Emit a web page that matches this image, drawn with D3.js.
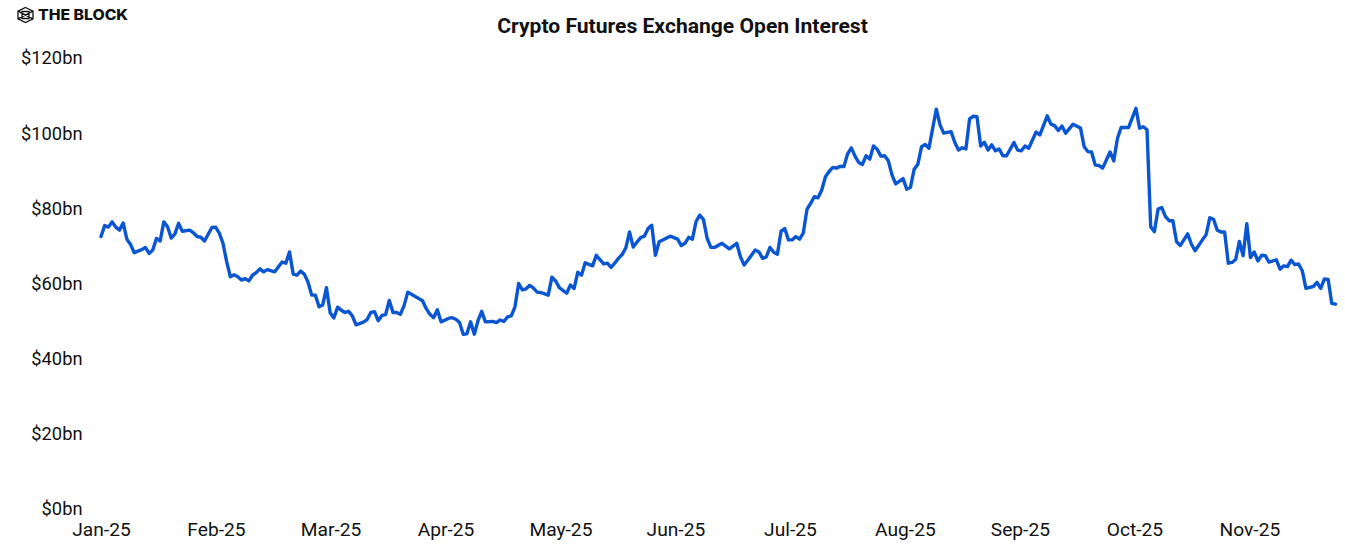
<!DOCTYPE html>
<html><head><meta charset="utf-8">
<script src="https://cdn.jsdelivr.net/npm/d3@7/dist/d3.min.js"></script>
<style>html,body{margin:0;padding:0;background:#fff}svg{display:block}text{font-family:Roboto,sans-serif;fill:#111}</style>
</head><body><svg id="c" width="1345" height="551"></svg>
<script>
const title = "Crypto Futures Exchange Open Interest";
const brand = "THE BLOCK";
const yTicks = [0,20,40,60,80,100,120];
const xTickLabels = ["Jan-25","Feb-25","Mar-25","Apr-25","May-25","Jun-25","Jul-25","Aug-25","Sep-25","Oct-25","Nov-25"];
const xTickDays = [0,31.1,62.1,93.2,124.3,155.4,186.4,217.5,248.6,279.6,310.7];
const days = [0,1,2,3,4,5,6,7,8,9,11,12,13,14,15,16,17,18,19,20,21,22,24,25,26,27,28,30,31,32,33,34,35,36,37,38,39,40,41,42,43,44,45,47,49,50,51,52,53,54,55,56,57,58,59,60,61,62,63,64,65,66,67,68,69,71,72,73,74,75,76,77,78,79,80,81,82,83,87,88,89,90,91,92,94,95,96,97,98,99,100,101,102,103,104,106,107,108,109,110,111,112,113,114,115,116,117,118,119,121,122,123,124,126,127,128,129,130,131,133,134,136,137,138,139,140,141,142,143,144,145,146,147,148,149,150,151,152,154,156,157,158,159,160,161,162,163,164,165,166,168,170,172,173,174,175,177,178,179,180,181,182,183,184,185,186,187,188,189,190,191,192,193,194,195,196,197,198,199,200,201,202,203,204,205,206,207,208,209,210,211,212,213,214,215,217,218,219,220,221,222,223,224,226,227,228,230,231,232,233,234,235,236,237,238,239,240,241,242,243,244,245,247,248,249,250,251,253,254,256,257,258,259,260,261,263,265,266,267,268,269,270,271,273,274,275,276,278,280,281,282,283,284,285,286,287,288,289,290,291,292,294,295,296,298,299,300,301,302,303,304,305,306,307,308,309,310,311,312,313,314,315,316,318,319,320,321,322,323,324,325,326,328,329,330,331,332,333,334];
const openInterest = [72.5,75.4,75.0,76.4,75.0,74.2,76.1,71.8,70.4,68.2,69.0,69.6,68.0,68.9,72.0,71.3,76.4,75.1,72.1,73.2,76.0,73.9,74.2,73.5,72.5,72.3,71.3,74.9,75.0,73.4,70.7,65.8,61.8,62.3,61.8,60.9,61.3,60.7,62.2,62.9,63.9,63.1,63.7,63.1,65.7,65.4,68.4,62.5,62.2,63.3,62.5,60.4,56.9,56.9,53.8,54.3,58.9,52.2,50.8,53.7,52.9,52.3,52.6,51.4,49.0,49.7,50.4,52.3,52.5,50.1,51.5,51.7,55.5,52.3,52.3,51.8,54.1,57.7,55.4,53.3,51.8,50.9,53.0,49.8,50.7,50.9,50.5,49.6,46.5,46.6,49.8,46.5,50.1,52.6,49.8,49.9,49.6,50.3,49.9,51.1,51.4,53.8,60.0,58.3,58.6,59.5,58.8,57.7,57.6,56.9,61.7,60.7,58.9,57.4,59.6,58.7,63.0,62.2,65.5,64.7,67.5,65.2,65.4,64.3,65.4,66.7,67.7,69.5,73.7,69.7,71.0,72.2,72.6,74.6,75.5,67.5,71.1,71.6,72.6,71.8,70.1,70.7,72.3,71.8,76.5,78.2,77.0,72.0,69.6,69.6,70.7,69.2,70.7,67.1,64.9,66.2,68.9,68.4,66.7,67.1,69.6,68.3,67.8,73.9,74.6,71.6,71.6,72.5,71.8,73.4,79.7,81.3,83.1,82.8,84.9,88.4,89.8,90.9,90.7,91.2,91.1,94.5,96.1,93.9,92.2,91.7,94.0,93.1,96.6,95.7,93.9,94.0,92.7,88.9,86.5,87.9,85.1,85.6,90.4,91.7,96.4,97.0,96.0,106.4,102.2,100.0,100.4,97.5,95.5,96.1,95.8,103.8,104.5,104.4,96.6,97.6,95.5,96.9,95.3,95.8,94.0,94.0,97.5,95.5,95.3,96.6,96.0,100.3,99.5,104.6,102.4,102.0,100.7,101.9,100.0,102.4,101.4,96.4,95.1,95.0,91.5,91.4,90.7,95.0,92.6,98.6,101.5,101.5,106.6,101.3,101.7,100.9,75.1,73.8,79.8,80.2,77.8,76.7,76.7,71.1,70.1,73.2,70.5,68.7,71.6,73.0,77.5,77.1,74.2,73.7,73.7,65.4,65.6,66.4,71.2,67.4,75.9,66.9,68.4,66.0,67.5,67.4,65.7,66.3,63.8,64.7,64.5,66.2,65.0,65.2,63.4,58.7,59.2,60.3,58.7,61.2,61.1,54.7,54.5];

const svg = d3.select("#c");
const x = d3.scaleLinear().domain([0,334]).range([101,1335.5]);
const y = d3.scaleLinear().domain([0,120]).range([509,58]);

svg.append("text").attr("x",682.5).attr("y",33).attr("text-anchor","middle")
  .style("font-size","21.1px").style("font-weight",700).text(title);

const yAxis = svg.append("g").attr("transform","translate(82.5,0)")
  .call(d3.axisLeft(y).tickValues(yTicks).tickSize(0).tickPadding(0).tickFormat(d=>"$"+d+"bn"));
yAxis.select(".domain").remove();
yAxis.selectAll("text").style("font-size","18.3px").style("fill","#111");

const xAxis = svg.append("g").attr("transform","translate(0,522)")
  .call(d3.axisBottom(x).tickValues(xTickDays).tickSize(0).tickPadding(0)
    .tickFormat((d,i)=>xTickLabels[i]));
xAxis.select(".domain").remove();
xAxis.selectAll("text").style("font-size","19.2px").style("fill","#111");

const pts = days.map((d,i)=>[d,openInterest[i]]);
svg.append("path").datum(pts)
  .attr("fill","none").attr("stroke","#0a55d2").attr("stroke-width",3.4)
  .attr("stroke-linejoin","round").attr("stroke-linecap","round")
  .attr("d",d3.line().x(d=>x(d[0])).y(d=>y(d[1])));

// brand mark
const logo = svg.append("g").attr("transform","translate(25.5,15)")
  .attr("fill","none").attr("stroke","#111").attr("stroke-width",1.3);
logo.append("path").attr("d","M0,-7.5L7.5,-3.8V3.8L0,7.5L-7.5,3.8V-3.8Z");
logo.append("path").attr("d","M-3.5,-3.5H3.5V3.5H-3.5ZM-7.5,-3.8L7.5,3.8M7.5,-3.8L-7.5,3.8");
svg.append("text").attr("x",38).attr("y",20).style("font-family","Inter")
  .attr("textLength",90).attr("lengthAdjust","spacingAndGlyphs")
  .style("font-size","14px").style("font-weight",800).text(brand);
</script></body></html>
